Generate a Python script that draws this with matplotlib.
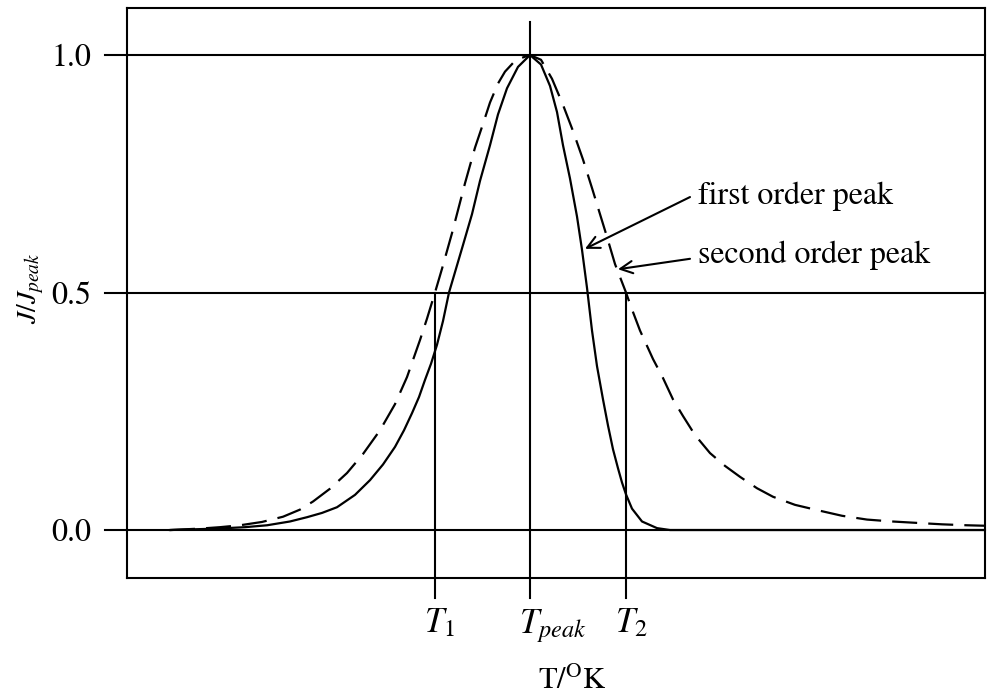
import matplotlib
matplotlib.use("Agg")
import matplotlib.pyplot as plt
from matplotlib.transforms import ScaledTranslation

plt.rcParams['font.family'] = ['STIXGeneral', 'DejaVu Serif']
plt.rcParams['mathtext.fontset'] = 'stix'
plt.rcParams['lines.scale_dashes'] = False

# ---- data (temperature in arbitrary units, intensity normalised J/Jpeak) ----
first_T = [170, 217, 245, 267, 290, 307, 322, 337, 355, 370, 383, 395, 404, 412,
           419, 425, 431, 437, 443, 449, 456, 463, 472, 480, 490, 498, 507, 518,
           530, 541, 550, 557, 563, 570, 577, 582, 587, 592, 597, 603, 608, 613,
           618, 622, 626, 632, 642, 657, 670, 985]
first_J = [0.0, 0.003, 0.006, 0.01, 0.018, 0.027, 0.036, 0.048, 0.074, 0.105,
           0.138, 0.175, 0.21, 0.246, 0.28, 0.316, 0.35, 0.39, 0.44, 0.5, 0.55,
           0.6, 0.665, 0.735, 0.81, 0.875, 0.93, 0.975, 1.0, 0.98, 0.935, 0.88,
           0.81, 0.74, 0.66, 0.59, 0.51, 0.42, 0.345, 0.275, 0.22, 0.17, 0.13,
           0.10, 0.075, 0.045, 0.018, 0.004, 0.0, 0.0]

second_T = [170, 200, 220, 240, 262, 283, 300, 313, 330, 347, 363, 380, 395, 407,
            420, 427, 435, 442, 452, 465, 475, 483, 490, 498, 505, 516, 530, 541,
            552, 563, 573, 583, 592, 600, 607, 615, 626, 631, 640, 653, 663, 673,
            683, 695, 710, 725, 740, 757, 773, 795, 817, 842, 867, 892, 917, 942,
            967, 985]
second_J = [0.0, 0.003, 0.006, 0.01, 0.017, 0.028, 0.043, 0.06, 0.087, 0.12,
            0.16, 0.21, 0.265, 0.322, 0.40, 0.445, 0.5, 0.55, 0.625, 0.73, 0.805,
            0.855, 0.9, 0.94, 0.965, 0.99, 1.0, 0.99, 0.95, 0.895, 0.84, 0.78,
            0.72, 0.665, 0.617, 0.56, 0.5, 0.47, 0.42, 0.36, 0.32, 0.275, 0.24,
            0.2, 0.162, 0.135, 0.112, 0.088, 0.07, 0.053, 0.042, 0.03, 0.022,
            0.018, 0.015, 0.012, 0.01, 0.009]

T1, Tpeak, T2 = 435, 530, 626
xtick_pos = [T1, Tpeak, T2]
xtick_labels = [r'$T_{\mathit{1}}$', r'$T_{peak}$', r'$T_{2}$']
ytick_pos = [0.0, 0.5, 1.0]
ytick_labels = ['0.0', '0.5', '1.0']
annot_texts = ['first order peak', 'second order peak']

# ---- figure ----
fig = plt.figure(figsize=(9.92, 6.98), dpi=100)
ax = fig.add_axes([127/992, 1-578/698, (985-127)/992, (578-8)/698])
ax.set_xlim(127, 985)
ax.set_ylim(-0.101, 1.099)

lw = 1.5
for s in ax.spines.values():
    s.set_linewidth(lw)

# horizontal reference lines (extend left as ticks)
for y in ytick_pos:
    ax.plot([105, 985], [y, y], color='black', lw=lw, clip_on=False)

# vertical lines at T1, Tpeak, T2 (extend below as ticks)
ybot = -0.143
ax.plot([T1, T1], [ybot, 0.5], color='black', lw=lw, clip_on=False)
ax.plot([T2, T2], [ybot, 0.5], color='black', lw=lw, clip_on=False)
ax.plot([Tpeak, Tpeak], [ybot, 1.07], color='black', lw=lw, clip_on=False)

# curves
ax.plot(first_T, first_J, color='black', lw=1.6)
ax.plot(second_T, second_J, color='black', lw=1.6, linestyle=(0, (18, 8)))

# ticks and labels
ax.set_yticks(ytick_pos)
ax.set_yticklabels(ytick_labels, fontsize=23)
ax.set_xticks(xtick_pos)
ax.set_xticklabels(xtick_labels, fontsize=25)
ax.tick_params(axis='y', length=0, pad=26)
ax.tick_params(axis='x', length=0, pad=21)
shift = ScaledTranslation(-11/100, 0, fig.dpi_scale_trans)
for lab in ax.get_xticklabels():
    lab.set_horizontalalignment('left')
    lab.set_transform(lab.get_transform() + shift)

ax.set_xlabel(r'T/$^{\mathrm{O}}$K', fontsize=22)
ax.xaxis.set_label_coords(0.519, -0.155)
ax.set_ylabel(r'$J/J_{peak}$', fontsize=20)
ax.yaxis.set_label_coords(-0.094, 0.509)

# annotations
ax.text(698, 0.703, annot_texts[0], fontsize=23, va='center', ha='left')
ax.text(698, 0.579, annot_texts[1], fontsize=23, va='center', ha='left')
arrow_kw = dict(arrowstyle='->', color='black', lw=1.5,
                mutation_scale=22, shrinkA=0, shrinkB=0)
ax.annotate('', xy=(585, 0.592), xytext=(690, 0.701), arrowprops=arrow_kw)
ax.annotate('', xy=(618, 0.549), xytext=(690, 0.571), arrowprops=arrow_kw)

fig.savefig('out.png', dpi=100)
